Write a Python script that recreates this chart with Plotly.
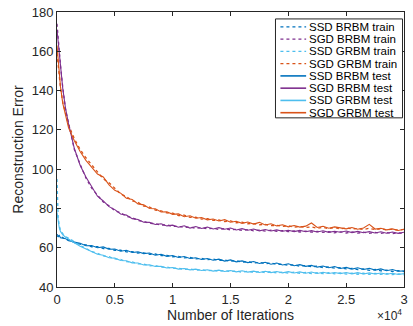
import plotly.graph_objects as go

iterations = [0, 100, 200, 300, 500, 750, 1000, 1500, 2000, 2500] + list(range(3000, 30001, 500))

ssd_brbm_train = [66.8, 66.3, 65.5, 65.7, 65.2, 64.1, 64.0, 62.6, 61.8, 61.5,
                  60.5, 60.5, 59.6, 59.6, 58.7, 58.7, 57.9, 58.0, 57.3, 57.4,
                  56.6, 56.8, 56.0, 56.1, 55.4, 55.6, 54.8, 55.1, 54.3, 54.6,
                  53.9, 54.2, 53.5, 53.7, 53.1, 53.4, 52.6, 52.9, 52.2, 52.5,
                  51.9, 52.2, 51.5, 51.6, 51.1, 51.3, 50.6, 50.9, 50.3, 50.6,
                  49.9, 50.2, 49.6, 49.8, 49.2, 49.5, 48.8, 49.2, 48.5, 48.9,
                  48.2, 48.6, 47.9, 48.3, 47.8]
sgd_brbm_train = [174, 166.5, 159.5, 153, 141.5, 130, 123.5, 110, 102.5, 95.5,
                  90.3, 86.8, 83.3, 81.3, 78.8, 77.8, 76.0, 75.3, 73.9, 73.4,
                  72.4, 72.3, 71.5, 71.6, 70.8, 70.9, 70.3, 70.5, 69.9, 70.2,
                  69.6, 69.9, 69.3, 69.7, 69.1, 69.4, 68.8, 69.2, 68.6, 69.0,
                  68.5, 68.9, 68.3, 68.7, 68.2, 68.6, 68.0, 68.4, 67.9, 68.3,
                  67.8, 68.2, 67.6, 68.1, 67.5, 68.0, 67.4, 67.9, 67.3, 67.8,
                  67.3, 67.7, 67.2, 67.6, 67.1]
ssd_grbm_train = [95, 75.5, 71.2, 69.0, 67.2, 65.6, 64.9, 63.0, 61.2, 59.7,
                  58.0, 57.2, 55.8, 55.4, 54.3, 54.0, 52.9, 52.8, 51.8, 51.7,
                  50.8, 50.9, 50.1, 50.2, 49.5, 49.6, 48.9, 49.2, 48.5, 48.8,
                  48.2, 48.6, 47.9, 48.4, 47.8, 48.2, 47.5, 48.0, 47.4, 47.9,
                  47.3, 47.8, 47.1, 47.6, 47.1, 47.5, 46.9, 47.4, 46.8, 47.3,
                  46.8, 47.3, 46.7, 47.2, 46.6, 47.1, 46.5, 47.0, 46.4, 46.9,
                  46.4, 46.8, 46.3, 46.7, 46.2]
sgd_grbm_train = [159, 152, 146, 141.5, 134, 127.5, 122.5, 115.5, 110, 105.8,
                  102.0, 98.8, 95.0, 93.1, 90.3, 87.4, 86.0, 83.9, 83.1, 81.2,
                  80.7, 79.2, 78.8, 77.7, 77.6, 76.3, 76.6, 75.4, 75.5, 74.6,
                  74.8, 73.9, 74.1, 73.3, 73.7, 72.7, 73.0, 72.2, 72.3, 71.7,
                  71.9, 71.2, 71.4, 70.8, 71.2, 70.5, 70.8, 70.3, 70.6, 69.9,
                  70.4, 69.7, 70.3, 69.6, 70.1, 69.6, 69.8, 69.3, 69.9, 69.2,
                  69.7, 69.0, 69.5, 68.9, 69.3]
ssd_brbm_test = [66.0, 65.6, 66.2, 65.1, 64.8, 64.6, 63.5, 62.9, 62.3, 61.0,
                 61.1, 60.0, 60.4, 59.2, 59.3, 58.2, 58.7, 57.6, 57.9, 57.0,
                 57.3, 56.2, 56.7, 55.6, 56.0, 55.0, 55.5, 54.5, 54.9, 54.0,
                 54.5, 53.6, 54.2, 53.2, 53.8, 52.8, 53.3, 52.4, 53.0, 52.0,
                 52.6, 51.6, 52.2, 51.2, 51.8, 50.8, 51.4, 50.5, 51.0, 50.1,
                 50.7, 49.8, 50.4, 49.4, 50.0, 49.1, 49.8, 48.9, 49.5, 48.6,
                 49.2, 48.3, 48.9, 48.0, 48.2]
sgd_brbm_test = [171, 165, 158.5, 152.5, 141, 130.5, 123, 110.5, 102, 96,
                 90.8, 86.2, 83.8, 80.9, 79.4, 77.2, 76.6, 74.8, 74.4, 73.0,
                 72.9, 71.8, 72.2, 71.1, 71.5, 70.4, 71.2, 70.0, 70.8, 69.8,
                 70.5, 69.5, 70.2, 69.4, 70.0, 69.0, 69.7, 68.9, 69.5, 68.6,
                 69.3, 68.5, 69.1, 68.4, 68.9, 68.2, 68.8, 68.1, 68.7, 68.0,
                 68.6, 67.8, 68.4, 67.9, 68.5, 67.7, 68.3, 67.6, 68.2, 67.5,
                 68.1, 67.4, 68.0, 67.3, 67.9]
ssd_grbm_test = [78, 72.5, 70.0, 68.3, 66.5, 65.3, 64.5, 62.5, 60.7, 59.3,
                 58.3, 56.7, 56.2, 54.9, 54.7, 53.5, 53.4, 52.3, 52.2, 51.2,
                 51.3, 50.4, 50.5, 49.7, 49.9, 49.1, 49.4, 48.7, 49.1, 48.4,
                 48.8, 48.1, 48.6, 47.9, 48.4, 47.7, 48.3, 47.6, 48.1, 47.4,
                 48.0, 47.3, 47.9, 47.2, 47.8, 47.1, 47.7, 47.0, 47.6, 46.9,
                 47.5, 46.9, 47.4, 46.8, 47.4, 46.7, 47.3, 46.6, 47.2, 46.6,
                 47.1, 46.5, 47.0, 46.4, 46.8]
sgd_grbm_test = [163, 155, 148, 142, 133.5, 126.5, 121, 114.5, 109, 104.5,
                 101.0, 97.5, 96.0, 92.0, 89.2, 87.8, 85.2, 84.6, 82.3, 81.8,
                 80.0, 79.8, 78.2, 78.3, 77.0, 77.2, 75.8, 76.3, 75.0, 75.4,
                 74.2, 74.6, 73.6, 74.3, 73.0, 73.5, 72.4, 73.1, 72.0, 72.9,
                 71.6, 72.2, 71.1, 71.7, 70.6, 71.3, 70.5, 71.0, 72.6, 70.3,
                 70.9, 69.9, 70.6, 70.1, 69.6, 70.3, 69.4, 70.0, 71.9, 69.5,
                 69.9, 69.1, 69.6, 68.8, 69.4]

x_tick_vals = [0, 5000, 10000, 15000, 20000, 25000, 30000]
x_tick_text = ["0", "0.5", "1", "1.5", "2", "2.5", "3"]

BLUE = "#0072BD"
PURPLE = "#7E2F8E"
LIGHT = "#4DBEEE"
ORANGE = "#D95319"

series = [
    ("SSD BRBM train", ssd_brbm_train, BLUE, "dot"),
    ("SGD BRBM train", sgd_brbm_train, PURPLE, "dot"),
    ("SSD GRBM train", ssd_grbm_train, LIGHT, "dot"),
    ("SGD GRBM train", sgd_grbm_train, ORANGE, "dot"),
    ("SSD BRBM test", ssd_brbm_test, BLUE, "solid"),
    ("SGD BRBM test", sgd_brbm_test, PURPLE, "solid"),
    ("SSD GRBM test", ssd_grbm_test, LIGHT, "solid"),
    ("SGD GRBM test", sgd_grbm_test, ORANGE, "solid"),
]

fig = go.Figure()
for name, vals, col, dash in series:
    fig.add_trace(go.Scatter(x=iterations, y=vals, mode="lines", name=name, showlegend=False,
                             line=dict(color=col, dash=dash, width=1.3 if dash == "dot" else 1.1)))

FONT = "Liberation Sans, Arial, sans-serif"
AX = "#262626"

# plot-area geometry in pixels (for placing the legend box)
L, R, T, B = 57, 408, 9, 287
def px_x(p):
    return (p - L) / (R - L)
def px_y(p):
    return (B - p) / (B - T)

# legend box
fig.add_shape(type="rect", xref="paper", yref="paper",
              x0=px_x(278), x1=px_x(406.5), y0=px_y(116), y1=px_y(16),
              line=dict(color=AX, width=1), fillcolor="white", layer="above")
for i, (name, vals, col, dash) in enumerate(series):
    cy = px_y(24 + 12.4 * i)
    fig.add_shape(type="line", xref="paper", yref="paper",
                  x0=px_x(283), x1=px_x(309), y0=cy, y1=cy,
                  line=dict(color=col, dash=dash, width=1.3 if dash == "dot" else 1.6),
                  layer="above")
    fig.add_annotation(text=name, xref="paper", yref="paper", x=px_x(310), y=cy,
                       xanchor="left", yanchor="middle", showarrow=False, height=12,
                       font=dict(size=11.5, color="black", family=FONT))

fig.update_layout(
    width=413, height=326,
    margin=dict(l=L, r=413 - R, t=T, b=326 - B),
    paper_bgcolor="white", plot_bgcolor="white",
    font=dict(family=FONT, size=13, color=AX),
    showlegend=False,
    xaxis=dict(range=[0, 30000], tickvals=x_tick_vals, ticktext=x_tick_text,
               showgrid=False, zeroline=False, showline=True, mirror="ticks",
               linecolor=AX, linewidth=1, ticks="inside", ticklen=4, tickcolor=AX,
               title=dict(text="Number of Iterations", font=dict(size=14), standoff=0)),
    yaxis=dict(range=[40, 180], dtick=20, showgrid=False, zeroline=False,
               showline=True, mirror="ticks", linecolor=AX, linewidth=1,
               ticks="inside", ticklen=4, tickcolor=AX,
               title=dict(text="Reconstruction Error", font=dict(size=14), standoff=4)),
)
fig.add_annotation(text="×10<sup>4</sup>", xref="paper", yref="paper", x=1.0, y=px_y(315),
                   xanchor="right", yanchor="middle", showarrow=False,
                   font=dict(size=12, color=AX))
fig.write_html("out.html")
